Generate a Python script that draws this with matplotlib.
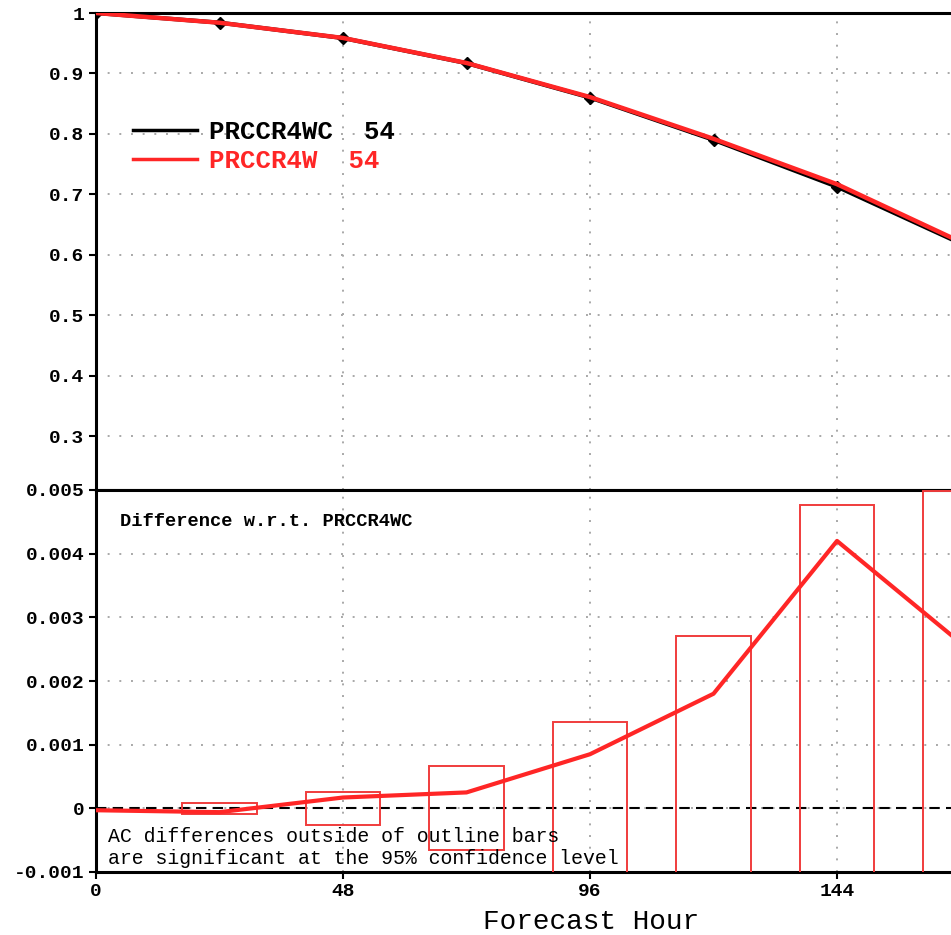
import matplotlib
matplotlib.use("Agg")
import matplotlib.pyplot as plt
from matplotlib.lines import Line2D

# forecast hours and anomaly correlation
hours = [0, 24, 48, 72, 96, 120, 144, 168]
ac_ctl = [1.0, 0.984, 0.9585, 0.917, 0.860, 0.790, 0.7125, 0.6187]
ac_exp = [1.0, 0.9839, 0.9587, 0.9173, 0.8609, 0.7918, 0.7167, 0.6213]

# difference exp - ctl and the 95% confidence half-widths (outline bars)
diff = [-0.00003, -0.00006, 0.00017, 0.00025, 0.00085, 0.0018, 0.0042, 0.0026]
bar_hours = [24, 48, 72, 96, 120, 144, 168]
conf = [0.00009, 0.00026, 0.00066, 0.00135, 0.0027, 0.00476, 0.00498]

ctl_name = "PRCCR4WC  54"
exp_name = "PRCCR4W  54"

top_yticks = [0.3, 0.4, 0.5, 0.6, 0.7, 0.8, 0.9, 1.0]
top_ylabels = ["0.3", "0.4", "0.5", "0.6", "0.7", "0.8", "0.9", "1"]
bot_yticks = [-0.001, 0, 0.001, 0.002, 0.003, 0.004, 0.005]
bot_ylabels = ["-0.001", "0", "0.001", "0.002", "0.003", "0.004", "0.005"]
xticks = [0, 48, 96, 144]

RED = "#ff2626"
BOXRED = "#f03c3c"
GRID = "#a8a8a8"
MONO = "Liberation Mono"

fig = plt.figure(figsize=(9.51, 9.35), dpi=100)
left = 96 / 951
width = 180 * 5.146 / 951
ax1 = fig.add_axes([left, (935 - 490) / 935, width, (490 - 13) / 935])
ax2 = fig.add_axes([left, (935 - 872) / 935, width, (872 - 490) / 935])

tick_font = dict(family=MONO, weight="bold", size=14)

for ax in (ax1, ax2):
    ax.set_xticks(xticks)
    ax.set_xlim(0, 180)
    ax.grid(True, color=GRID, linestyle=(0, (1, 5)), linewidth=1.4)
    ax.tick_params(direction="out", length=5, width=1.5, right=False, top=False)
    for side in ("top", "left", "bottom"):
        ax.spines[side].set_linewidth(2.2)
    ax.spines["right"].set_visible(False)

# top panel: anomaly correlation
ax1.set_yticks(top_yticks)
ax1.set_yticklabels(top_ylabels, fontdict=tick_font)
ax1.set_ylim(1 - 477 / 604.3, 1.0)
ax1.tick_params(axis="x", bottom=False, labelbottom=False)
ax1.plot(hours, ac_ctl, color="black", lw=3, zorder=3)
ax1.plot(hours, ac_ctl, color="black", ls="none", marker="D", ms=6, zorder=3)
ax1.plot(hours, ac_exp, color=RED, lw=3.2, zorder=4)

handles = [Line2D([], [], color="black", lw=2.5), Line2D([], [], color=RED, lw=2.5)]
leg = ax1.legend(handles, [ctl_name, exp_name], loc="upper left",
                 bbox_to_anchor=(133 / 951, (935 - 120) / 935), bbox_transform=fig.transFigure,
                 frameon=False, borderpad=0, borderaxespad=0, handlelength=2.5,
                 handletextpad=0.45, labelspacing=0.18,
                 prop=dict(family=MONO, weight="bold", size=18.5))
for txt, col in zip(leg.get_texts(), ["black", RED]):
    txt.set_color(col)

# bottom panel: differences with confidence outline bars
ax2.set_yticks(bot_yticks)
ax2.set_yticklabels(bot_ylabels, fontdict=tick_font)
ax2.set_xticklabels([str(h) for h in xticks], fontdict=tick_font)
ax2.tick_params(axis="x", pad=3)
ax2.axhline(0, color="black", ls=(0, (5, 3)), lw=1.5, zorder=2)
ax2.bar(bar_hours, [2 * c for c in conf], bottom=[-c for c in conf], width=14.4,
        fill=False, edgecolor=BOXRED, linewidth=1.4, zorder=3)
ax2.plot(hours, diff, color=RED, lw=3, zorder=4)
ax2.set_xlim(0, 180)
ax2.set_ylim(-0.001, 0.005)

ax2.text(4.7, 0.0045, "Difference w.r.t. PRCCR4WC", family=MONO, weight="bold",
         size=13.5, va="center", ha="left")
ax2.text(2.3, -0.00044, "AC differences outside of outline bars", family=MONO,
         size=14.3, va="center", ha="left", zorder=5)
ax2.text(2.3, -0.00079, "are significant at the 95% confidence level", family=MONO,
         size=14.3, va="center", ha="left", zorder=5)

fig.text(591 / 951, (935 - 922) / 935, "Forecast Hour", family=MONO, size=20,
         ha="center", va="center")

fig.savefig("out.png", dpi=100)
